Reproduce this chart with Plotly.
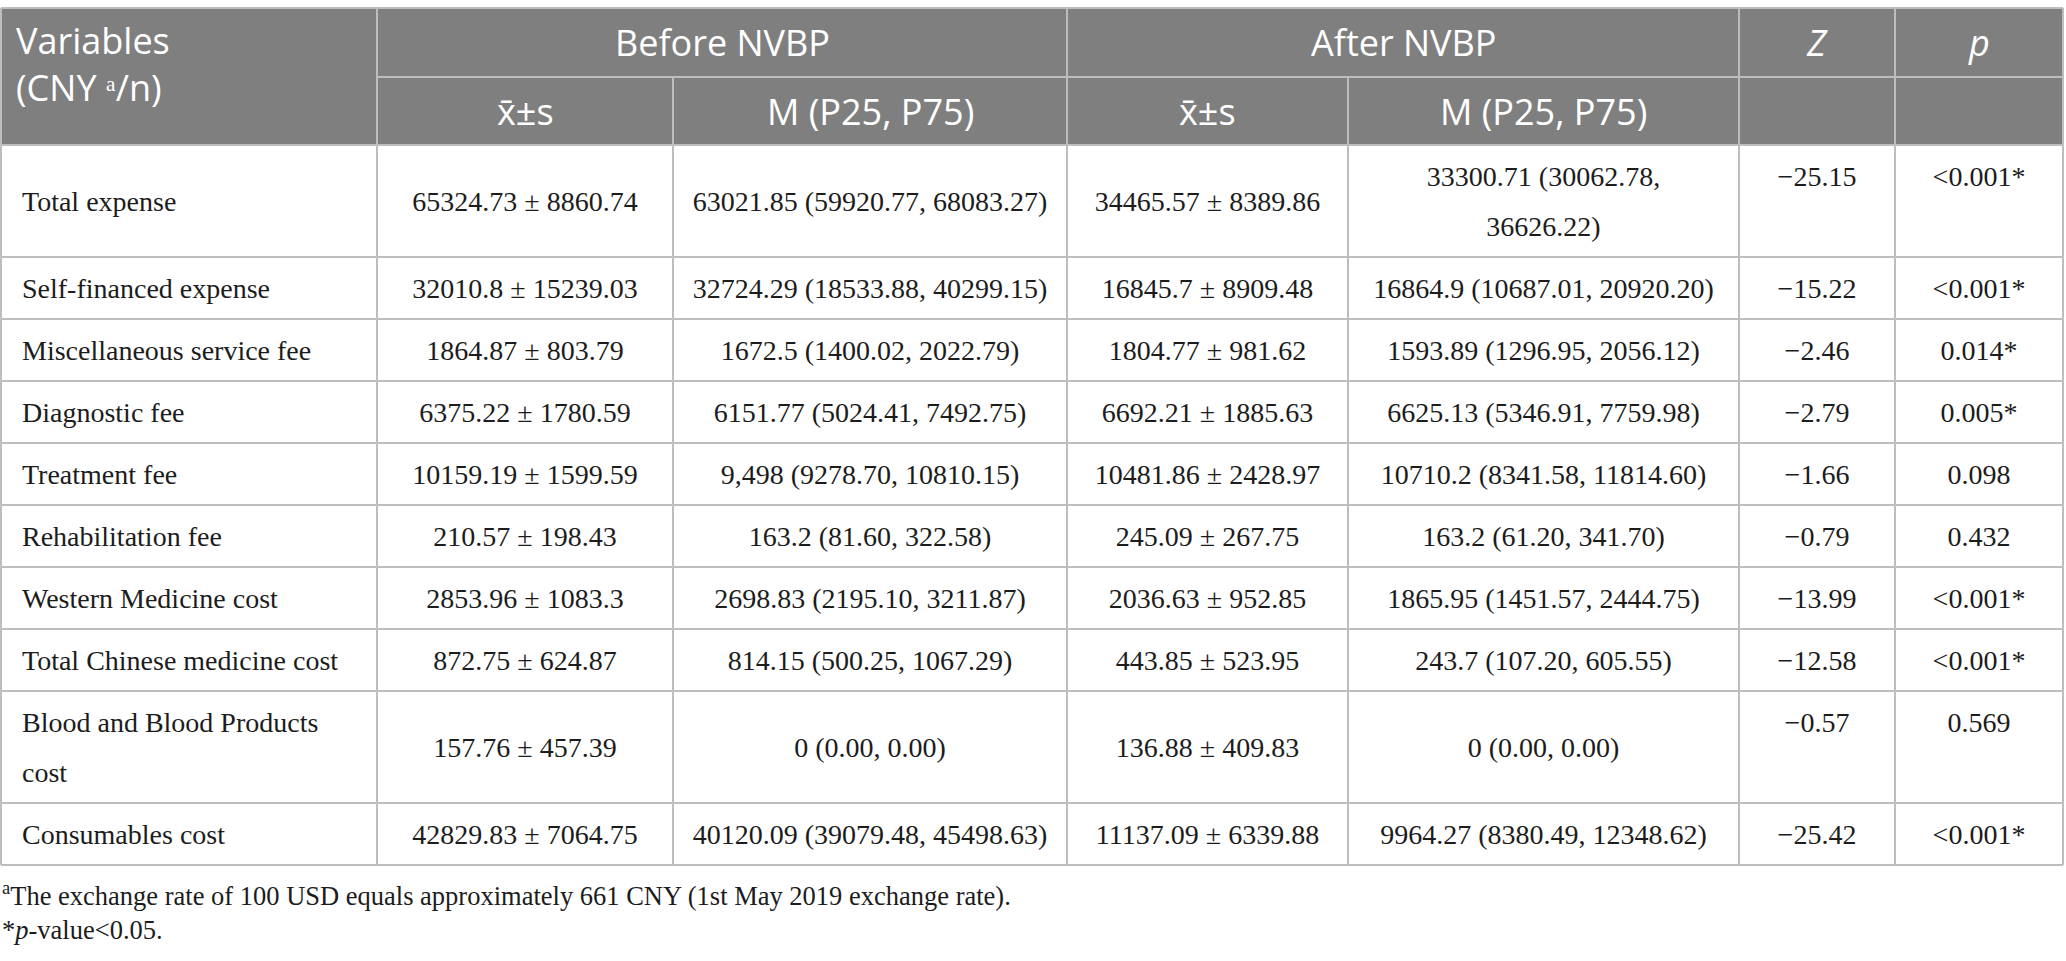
import textwrap
import plotly.graph_objects as go

# ---------------- data ----------------
variables = [
    "Total expense", "Self-financed expense", "Miscellaneous service fee",
    "Diagnostic fee", "Treatment fee", "Rehabilitation fee",
    "Western Medicine cost", "Total Chinese medicine cost",
    "Blood and Blood Products cost", "Consumables cost",
]
before_mean_sd = [
    "65324.73 ± 8860.74", "32010.8 ± 15239.03", "1864.87 ± 803.79",
    "6375.22 ± 1780.59", "10159.19 ± 1599.59", "210.57 ± 198.43",
    "2853.96 ± 1083.3", "872.75 ± 624.87", "157.76 ± 457.39",
    "42829.83 ± 7064.75",
]
before_median = [
    "63021.85 (59920.77, 68083.27)", "32724.29 (18533.88, 40299.15)",
    "1672.5 (1400.02, 2022.79)", "6151.77 (5024.41, 7492.75)",
    "9,498 (9278.70, 10810.15)", "163.2 (81.60, 322.58)",
    "2698.83 (2195.10, 3211.87)", "814.15 (500.25, 1067.29)",
    "0 (0.00, 0.00)", "40120.09 (39079.48, 45498.63)",
]
after_mean_sd = [
    "34465.57 ± 8389.86", "16845.7 ± 8909.48", "1804.77 ± 981.62",
    "6692.21 ± 1885.63", "10481.86 ± 2428.97", "245.09 ± 267.75",
    "2036.63 ± 952.85", "443.85 ± 523.95", "136.88 ± 409.83",
    "11137.09 ± 6339.88",
]
after_median = [
    "33300.71 (30062.78, 36626.22)", "16864.9 (10687.01, 20920.20)",
    "1593.89 (1296.95, 2056.12)", "6625.13 (5346.91, 7759.98)",
    "10710.2 (8341.58, 11814.60)", "163.2 (61.20, 341.70)",
    "1865.95 (1451.57, 2444.75)", "243.7 (107.20, 605.55)",
    "0 (0.00, 0.00)", "9964.27 (8380.49, 12348.62)",
]
z_values = [-25.15, -15.22, -2.46, -2.79, -1.66, -0.79, -13.99, -12.58, -0.57, -25.42]
p_values = ["<0.001*", "<0.001*", "0.014*", "0.005*", "0.098", "0.432",
            "<0.001*", "<0.001*", "0.569", "<0.001*"]

group_headers = ["Before NVBP", "After NVBP"]
sub_headers = ["x̄±s", "M (P25, P75)"]
first_header = ["Variables", "(CNY ᵃ/n)"]
stat_headers = ["<i>Z</i>", "<i>p</i>"]
footnotes = [
    "<sup>a</sup>The exchange rate of 100 USD equals approximately 661 CNY (1st May 2019 exchange rate).",
    "*<i>p</i>-value&lt;0.05.",
]

# ---------------- style / layout ----------------
W, H = 2066, 961
table_left = 1
col_widths = [376, 296, 394, 281, 391, 156, 168]
table_top = 8
header_row_h = [69, 68]
line_pitch = 50
row_pad = 12
text_inset = 13
wrap_chars = {(8, 0): 24, (0, 4): 20}   # (row, col) -> wrap width in characters

HEADER_FILL = "#7f7f7f"
GRID = "#bdbdbd"
TEXT = "#1c1c1c"
SERIF = "Liberation Serif"
SANS = "Open Sans"
BODY_SIZE = 28
HEAD_SIZE = 36
FOOT_SIZE = 26.5

columns = [
    variables,
    before_mean_sd,
    before_median,
    after_mean_sd,
    after_median,
    ["−%.2f" % abs(z) if z < 0 else "%.2f" % z for z in z_values],
    p_values,
]


def esc(s):
    return s.replace("&", "&amp;").replace("<", "&lt;").replace(">", "&gt;")


def cell_lines(r, c):
    txt = columns[c][r]
    if (r, c) in wrap_chars:
        return textwrap.wrap(txt, wrap_chars[(r, c)])
    return [txt]


n_rows = len(variables)
n_cols = len(columns)

col_edges = [table_left]
for w in col_widths:
    col_edges.append(col_edges[-1] + w)
col_centers = [(col_edges[i] + col_edges[i + 1]) / 2 for i in range(n_cols)]

header_mid = table_top + header_row_h[0]
header_bottom = header_mid + header_row_h[1]

row_lines = [max(len(cell_lines(r, c)) for c in range(n_cols)) for r in range(n_rows)]
row_edges = [header_bottom]
for nl in row_lines:
    row_edges.append(row_edges[-1] + row_pad + line_pitch * nl)
table_bottom = row_edges[-1]

fig = go.Figure()

# body text, one trace per column
for c in range(n_cols):
    xs, ys, ts = [], [], []
    for r in range(n_rows):
        lines = cell_lines(r, c)
        top, bot = row_edges[r], row_edges[r + 1]
        if c >= 5:
            y0 = top + (row_pad + line_pitch) / 2
        else:
            y0 = (top + bot) / 2 - (len(lines) - 1) * line_pitch / 2
        for i, ln in enumerate(lines):
            xs.append(col_edges[0] + text_inset + 8 if c == 0 else col_centers[c])
            ys.append(y0 + i * line_pitch + 3)
            ts.append(esc(ln))
    fig.add_trace(go.Scatter(
        x=xs, y=ys, text=ts, mode="text",
        textposition="middle right" if c == 0 else "middle center",
        textfont=dict(family=SERIF, size=BODY_SIZE, color=TEXT),
        hoverinfo="skip", cliponaxis=False, showlegend=False,
    ))

shapes = []
# header background
shapes.append(dict(type="rect", x0=col_edges[0], x1=col_edges[-1], y0=table_top, y1=header_bottom,
                   fillcolor=HEADER_FILL, line=dict(width=0), layer="below"))
# horizontal rules
for y in [table_top, header_bottom] + row_edges[1:]:
    shapes.append(dict(type="line", x0=col_edges[0], x1=col_edges[-1], y0=y, y1=y,
                       line=dict(color=GRID, width=2)))
shapes.append(dict(type="line", x0=col_edges[1], x1=col_edges[-1], y0=header_mid, y1=header_mid,
                   line=dict(color=GRID, width=2)))
# vertical rules
for i, x in enumerate(col_edges):
    y_start = header_mid if i in (2, 4) else table_top
    shapes.append(dict(type="line", x0=x, x1=x, y0=y_start, y1=table_bottom,
                       line=dict(color=GRID, width=2)))

annotations = []
hfont = dict(family=SANS, size=HEAD_SIZE, color="white")
row1_y = (table_top + header_mid) / 2
row2_y = (header_mid + header_bottom) / 2
# first header cell (two lines, top aligned)
annotations.append(dict(x=col_edges[0] + text_inset, y=row1_y + 21, xref="x", yref="y",
                        text="<br>".join(first_header), showarrow=False,
                        xanchor="left", yanchor="middle", align="left", font=hfont))
# group headers
for g, txt in enumerate(group_headers):
    cx = (col_edges[1 + 2 * g] + col_edges[3 + 2 * g]) / 2
    annotations.append(dict(x=cx, y=row1_y, xref="x", yref="y",
                            text=txt, showarrow=False, xanchor="center", yanchor="middle", font=hfont))
    for s, st in enumerate(sub_headers):
        annotations.append(dict(x=col_centers[1 + 2 * g + s], y=row2_y,
                                xref="x", yref="y", text=st, showarrow=False,
                                xanchor="center", yanchor="middle", font=hfont))
for k, txt in enumerate(stat_headers):
    annotations.append(dict(x=col_centers[5 + k], y=row1_y, xref="x", yref="y",
                            text=txt, showarrow=False, xanchor="center", yanchor="middle", font=hfont))
# footnotes
for k, txt in enumerate(footnotes):
    annotations.append(dict(x=0, y=table_bottom + 29 + k * 36, xref="x", yref="y",
                            text=txt, showarrow=False, xanchor="left", yanchor="middle",
                            font=dict(family=SERIF, size=FOOT_SIZE, color=TEXT)))

fig.update_layout(
    width=W, height=H,
    margin=dict(l=0, r=0, t=0, b=0),
    paper_bgcolor="white", plot_bgcolor="white",
    xaxis=dict(range=[0, W], visible=False, fixedrange=True),
    yaxis=dict(range=[H, 0], visible=False, fixedrange=True),
    shapes=shapes, annotations=annotations,
    showlegend=False,
)

fig.write_html("out.html", config={"displayModeBar": False},
               post_script="document.body.style.margin='0';")
